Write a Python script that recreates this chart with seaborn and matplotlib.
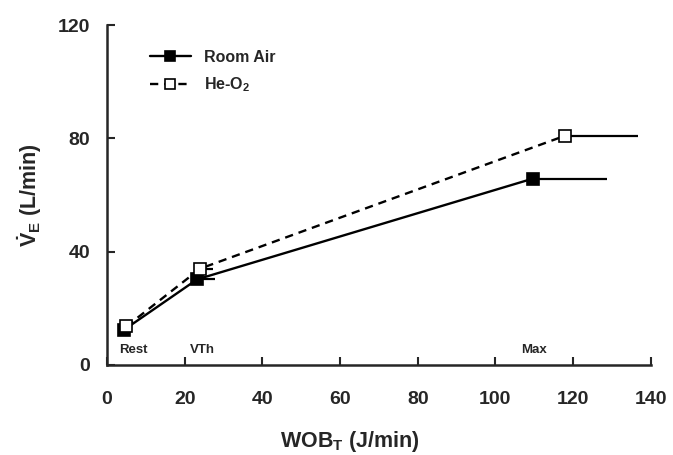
import numpy as np
import pandas as pd
import seaborn as sns
import matplotlib.pyplot as plt

sns.set_style('ticks')
plt.rcParams['font.family'] = ['Liberation Sans', 'DejaVu Sans']
plt.rcParams['font.weight'] = 'bold'
plt.rcParams['mathtext.fontset'] = 'custom'
plt.rcParams['mathtext.rm'] = 'Liberation Sans:bold'
plt.rcParams['mathtext.bf'] = 'Liberation Sans:bold'
plt.rcParams['mathtext.it'] = 'Liberation Sans:bold'

# datos
stages = ['Rest', 'VTh', 'Max']
wob_air = [4.4, 23.2, 109.7]
ve_air = [12.4, 30.2, 65.8]
sd_air = [0, 4.6, 19.1]
wob_he = [5.0, 24.0, 117.9]
ve_he = [13.6, 34.0, 80.9]
sd_he = [0, 3.4, 18.9]
stage_x = [6.7, 24.5, 110.0]

df = pd.concat([
    pd.DataFrame({'wob': wob_air, 've': ve_air, 'cond': 'Room Air'}),
    pd.DataFrame({'wob': wob_he, 've': ve_he, 'cond': 'He-O$_2$'}),
])

fig = plt.figure(figsize=(6.73, 4.55), dpi=100)
ax = fig.add_axes([0.159, 0.198, 0.808, 0.747])

# barras de error horizontales (solo hacia la derecha)
ax.errorbar(wob_air, ve_air, xerr=[np.zeros(3), sd_air], fmt='none',
            ecolor='black', elinewidth=1.6, capsize=0, zorder=1)
ax.errorbar(wob_he, ve_he, xerr=[np.zeros(3), sd_he], fmt='none',
            ecolor='black', elinewidth=1.6, capsize=0, zorder=1)

sns.lineplot(data=df, x='wob', y='ve', style='cond', hue='cond',
             palette=['black', 'black'], markers=['s', 's'],
             dashes=[(None, None), (3.5, 2.5)], sort=False, ax=ax,
             linewidth=1.7, markersize=9, markeredgecolor='black',
             markeredgewidth=1.2, zorder=3)
for line in ax.lines:
    if line.get_linestyle() == '--':
        line.set_markerfacecolor('white')

handles, labels = ax.get_legend_handles_labels()
for h in handles:
    if h.get_linestyle() == '--':
        h.set_markerfacecolor('white')
ax.legend(handles, labels, loc='upper left', bbox_to_anchor=(0.052, 0.97),
          frameon=False, fontsize=11.5, handlelength=2.6, markerscale=0.8,
          labelspacing=0.7)

for s, x in zip(stages, stage_x):
    ax.text(x, 3.3, s, ha='center', va='bottom', fontsize=9.5, fontweight='bold')

ax.set_xlim(0, 140)
ax.set_ylim(0, 120)
ax.set_xticks(range(0, 141, 20))
ax.set_yticks([0, 40, 80, 120])
ax.tick_params(direction='in', length=6, width=1.5, labelsize=14)
ax.tick_params(axis='x', pad=19)
ax.tick_params(axis='y', pad=12)
for sp in ['left', 'bottom']:
    ax.spines[sp].set_linewidth(1.8)
sns.despine(ax=ax)

ax.set_xlabel('WOB$_\\mathrm{T}$ (J/min)', fontsize=15.5, fontweight='bold')
ax.set_ylabel('$\\dot{\\mathrm{V}}_\\mathrm{E}$ (L/min)', fontsize=15.5, fontweight='bold')
ax.xaxis.set_label_coords(0.447, -0.19)
ax.yaxis.set_label_coords(-0.115, 0.5)

fig.savefig('out.png', dpi=100)
